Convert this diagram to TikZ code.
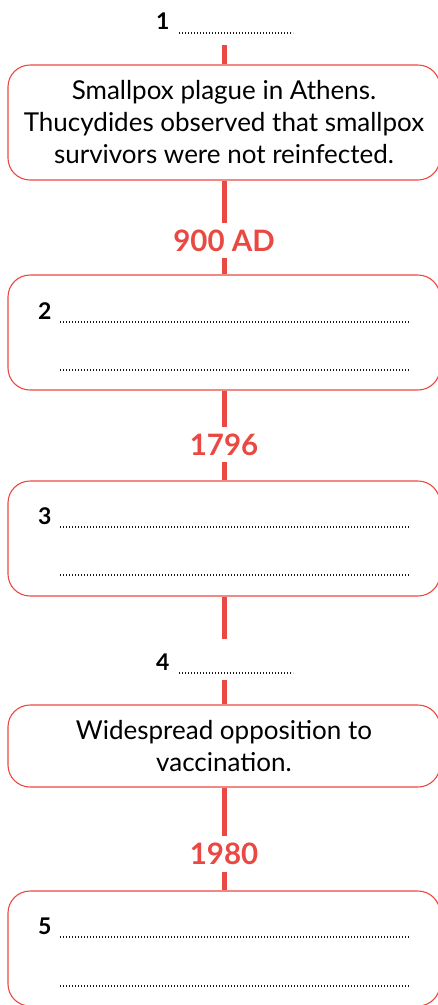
\documentclass[tikz,border=0pt]{standalone}
\usepackage{fontspec}
\setmainfont{Lato}
\definecolor{tlred}{RGB}{234,72,66}
\begin{document}
\begin{tikzpicture}[x=1pt,y=-1pt,
  box/.style={draw=tlred, line width=1.1pt, rounded corners=22pt, minimum width=432pt, minimum height=115pt, inner sep=0pt, align=center, font=\fontsize{26}{32}\selectfont},
  link/.style={draw=tlred, line width=5pt},
  year/.style={text=tlred, font=\fontsize{29.5}{34}\selectfont\bfseries, text height=21pt, text depth=0pt, inner xsep=2pt, inner ysep=7pt},
  num/.style={font=\fontsize{23}{28}\selectfont\bfseries, inner sep=0pt, anchor=base west},
  dots/.style={line width=1.2pt, dash pattern=on 1pt off 2pt, black!90}]
\useasboundingbox (0,0) rectangle (438,1005);
\clip (0,0) rectangle (438,1005);
% top label 1
\node[num] (n1) at (156,29.5) {1};
\draw[dots] (179,33) -- (293,33);
\coordinate (c1) at (224,45);
% boxes
\node[box] (b1) at (224,122.5) {Smallpox plague in Athens.\\Thucydides observed that smallpox\\survivors were not reinfected.};
\node[year] (y1) at (224,240.5) {900 AD};
\node[box] (b2) at (224,332.5) {};
\node[year] (y2) at (224,444.5) {1796};
\node[box] (b3) at (224,538.5) {};
\coordinate (c4a) at (224,639);
\node[num] (n4) at (156,670) {4};
\draw[dots] (179,673) -- (293,673);
\coordinate (c4b) at (224,680);
\node[box, minimum height=82pt] (b4) at (224,746) {Widespread opposition to\\vaccination.};
\node[year] (y3) at (224,854) {1980};
\node[box] (b5) at (224,948.5) {};
% connectors
\draw[link] (c1) -- (b1.north);
\draw[link] (b1.south) -- (y1.north);
\draw[link] (y1.south) -- (b2.north);
\draw[link] (b2.south) -- (y2.north);
\draw[link] (y2.south) -- (b3.north);
\draw[link] (b3.south) -- (c4a);
\draw[link] (c4b) -- (b4.north);
\draw[link] (b4.south) -- (y3.north);
\draw[link] (y3.south) -- (b5.north);
% box contents
\node[num] (n2) at (38,319) {2};
\draw[dots] (60,322) -- (410,322);
\draw[dots] (60,370) -- (410,370);
\node[num] (n3) at (38,524) {3};
\draw[dots] (60,527) -- (410,527);
\draw[dots] (60,575) -- (410,575);
\node[num] (n5) at (38,934) {5};
\draw[dots] (60,937) -- (410,937);
\draw[dots] (60,986) -- (410,986);
\end{tikzpicture}
\end{document}
